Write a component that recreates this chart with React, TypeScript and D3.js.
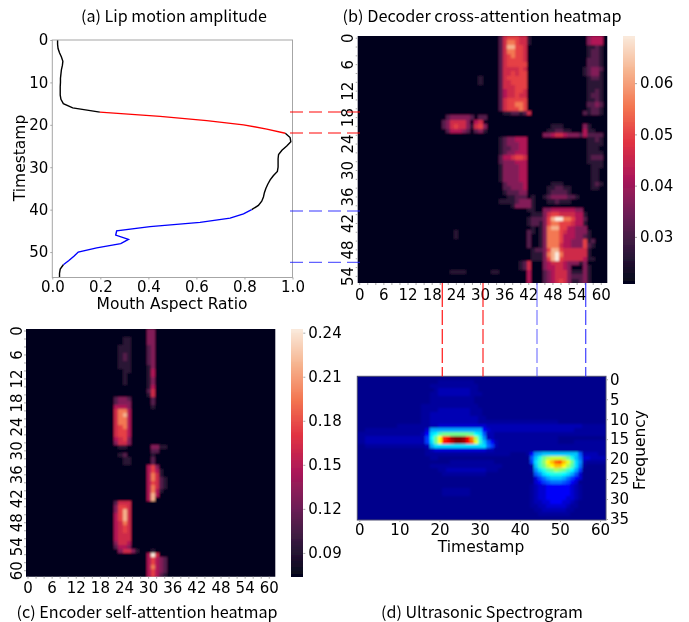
import React, { useEffect, useRef } from "react";
import * as d3 from "d3";

const WIDTH = 689;
const HEIGHT = 622;

// (a) lip motion: mouth aspect ratio per timestamp
const lipTimestamps = d3.range(0, 57);
const lipAmplitude = [
  0.022, 0.022, 0.024, 0.03, 0.038, 0.044, 0.042, 0.038, 0.036, 0.034, 0.034, 0.033, 0.033, 0.033, 0.036, 0.046,
  0.085, 0.198, 0.449, 0.643, 0.796, 0.893, 0.97, 0.99, 0.993, 0.976, 0.956, 0.942, 0.94, 0.94, 0.94, 0.937, 0.92,
  0.907, 0.897, 0.889, 0.883, 0.879, 0.872, 0.858, 0.83, 0.796, 0.74, 0.615, 0.407, 0.268, 0.264, 0.317, 0.285,
  0.185, 0.108, 0.09, 0.069, 0.046, 0.033, 0.03, 0.03,
];
const lipRedRange = [17, 22];
const lipBlueRange = [40, 53];

// heatmap cells are stored as levels 0-9 between the colorbar ends, in patches on a dark background
type Patch = { row: number; col: number; cells: string[] };

const crossTop: Patch = {
  row: 0,
  col: 35,
  cells: [
    "25666551", "25776551", "25886650", "25776650", "25676650", "25666650", "25666660", "25555650", "25565660",
    "25666660", "25566660", "25556660", "24556650", "24556550", "25666660", "25667760", "25666760", "01122125",
  ],
};
const crossMiddle: Patch = {
  row: 23,
  col: 35,
  cells: [
    "1233444", "1233344", "1223344", "1233444", "2445665", "2333444", "1333344", "1333344", "1333344", "1333344",
    "0233334", "0223334", "0122233", "0011222",
  ],
};
const crossMiddleLow: Patch = { row: 37, col: 35, cells: ["11112333", "00013333"] };
const crossBlob: Patch = {
  row: 18,
  col: 21,
  cells: ["02333332022", "23555530450", "23565531563", "02444320231"],
};
const crossBand: Patch = {
  row: 20,
  col: 46,
  cells: ["00111000003100000", "01122110004110000", "33455433324222200"].map((r) => r.slice(0, 15)),
};
const crossRightTop: Patch = {
  row: 0,
  col: 56,
  cells: [
    "03444", "03444", "01121", "01221", "01221", "02221", "02221", "12332", "12331", "01221", "01111", "01111",
    "01121", "01221", "01121", "02232", "01221", "21221",
  ],
};
const crossRightLow: Patch = {
  row: 23,
  col: 57,
  cells: ["1121", "1111", "1110", "1111", "1222", "1111", "0111", "0110", "0110", "0110", "0121", "0110"],
};
const crossLower: Patch = {
  row: 33,
  col: 42,
  cells: [
    "00000011100000000", "00000112211000000", "00000122221000000", "01001233332210000", "01000112111000000",
    "01000000000000000", "11003344444433000", "01113566555544100", "12223689977644200", "12213677666544100",
    "01013788664433300", "21013777654433310", "20013777644433210", "20013777644333612", "20013777544333621",
    "01223688655555510", "01113789755555510", "01113689655555411", "50003455543331300", "50003445543000310",
    "40002345553111310", "40002345553222310", "40002345653112310",
  ],
};
const crossFaint: Patch[] = [
  { row: 9, col: 30, cells: ["1", "1"] },
  { row: 44, col: 24, cells: ["1", "1"] },
  { row: 51, col: 40, cells: ["12", "12"] },
  { row: 53, col: 23, cells: ["1111"] },
  { row: 53, col: 33, cells: ["11"] },
];
const crossPatches = [
  crossTop, crossMiddle, crossMiddleLow, crossBlob, crossBand, crossRightTop, crossRightLow, crossLower, ...crossFaint,
];

const selfTopColumn: Patch = {
  row: 0,
  col: 30,
  cells: [
    "33", "33", "33", "33", "23", "23", "23", "23", "23", "13", "14", "14", "13", "13", "14", "25", "15", "02", "02",
    "01",
  ],
};
const selfFaint: Patch = {
  row: 2,
  col: 23,
  cells: ["011", "011", "111", "111", "121", "121", "111", "111", "011", "010", "010", "010"],
};
const selfBlockA: Patch = {
  row: 17,
  col: 22,
  cells: [
    "2332", "2333", "4443", "5774", "5784", "5774", "5774", "5674", "5664", "5664", "4563", "3553", "0110",
  ],
};
const selfSmall: Patch = { row: 29, col: 31, cells: ["3311", "2200"] };
const selfFaintLow: Patch = {
  row: 31,
  col: 23,
  cells: ["120", "011", "011"],
};
const selfColumnStub: Patch = { row: 31, col: 31, cells: ["1", "2", "2"] };
const selfBlockB: Patch = {
  row: 34,
  col: 30,
  cells: ["46300", "46410", "47510", "47521", "46521", "47521", "47410", "48400", "48000"],
};
const selfBlockC: Patch = {
  row: 43,
  col: 22,
  cells: [
    "25550", "36650", "36850", "46850", "46850", "45750", "45650", "45650", "45550", "45550", "35540", "24430",
    "03553",
  ],
};
const selfTail: Patch = { row: 55, col: 27, cells: ["1"] };
const selfBlockD: Patch = {
  row: 55,
  col: 30,
  cells: ["01000", "49500", "46432", "46432", "47432", "46432", "46421"],
};
const selfPatches = [
  selfTopColumn, selfFaint, selfBlockA, selfSmall, selfFaintLow, selfColumnStub, selfBlockB, selfBlockC, selfTail,
  selfBlockD,
];

// what each stored level 0-9 means as a fraction of the colorbar
const rocketLevels = [0, 0.11, 0.22, 0.33, 0.44, 0.52, 0.6, 0.72, 0.85, 1];

// (d) spectrogram, base-36 levels over the jet map, groups of ten columns
const spectrogramRows = [
  "1111111111 1111111111 1111111111 1111111111 1111111111 1111111111 11",
  "1111111111 1111111111 2222222221 1111111111 1111111111 1111111111 11",
  "1111111111 1111111122 2222222222 1111111111 1111111111 1111111111 11",
  "1111111111 1111111112 3333333322 1111111111 1111111111 1111111111 11",
  "1111111111 1111111122 3333333322 2111111111 1111111111 1111111111 11",
  "1111111111 1111111122 2222222221 1111111111 1111111111 1111111111 11",
  "1111111111 1111111122 2222222221 1111111111 1111111111 1111111111 11",
  "1111111111 1111112222 2222222222 1111111111 1111111111 1111111111 11",
  "1111111111 1111112222 3333333322 2111111111 1111111111 1111111111 11",
  "1111111111 1111112233 3333333322 2111111111 1111111111 1111111111 11",
  "1111111111 1111112233 3333333333 2211111111 1111111111 1111111111 11",
  "1111111111 1111112233 3333333333 2222222222 2222222222 1111111111 11",
  "1111111111 2222222233 4444444444 4433333333 3333333333 3333332222 22",
  "1122222222 22222224aa aaaaaaaaaa a543333333 3333333333 3333222222 22",
  "2222222222 22222235cd ghhhhhhhgd c733222222 2222222222 2222222222 22",
  "2233333333 33333336dh mtvyzzyvqj e933222222 2222222222 1111111111 11",
  "2233333333 33333336ch muvxzzyvrl fb75322222 2222222222 1111222222 22",
  "1122222222 22222223ac cccccccccc cc86322222 2222222222 2222222222 22",
  "1111111111 1111111234 4444444444 4433222222 2222222222 2222222222 22",
  "1111111111 1111111222 2222222222 2222222211 11259abbbb bbbbb73333 22",
  "1111111111 1111111122 1111111111 1111111111 1117behjkk kjheb84433 33",
  "1111111111 1111111111 1112222222 2222111111 1116cfimor solhc93222 22",
  "1111111111 1111111122 2222222222 2222221111 1112bfhkmo omjgc82111 11",
  "1111111111 1111111111 2233333333 3322211111 11129ceghj ihfda61111 11",
  "1111111111 1111111111 1222222222 2211111111 111179cdee edca741111 11",
  "1111111111 1111111111 1111111111 1111111111 1111468abb ba86541111 11",
  "1111111111 1111111111 1111111111 1111111111 1111456788 8765411111 11",
  "1111111111 1111111111 1111111111 1111111111 1112344555 5554321111 11",
  "1111111111 1111111111 1222222211 1111111111 1112344555 5554321111 11",
  "1111111111 1111111111 1222222211 1111111111 1112344555 5554321111 11",
  "1111111111 1111111111 1111111111 1111111111 1112344555 5544321111 11",
  "1111111111 1111111111 1111111111 1111111111 1112334455 5443211111 11",
  "1111111111 1111111111 1111111111 1111111111 1112233444 4432211111 11",
  "1111111111 1111111111 1111111111 1111111111 1111223333 3322111111 11",
  "1111111111 1111111111 1111111111 1111111111 1111122222 2221111111 11",
  "1111111111 1111111111 1111111111 1111111111 1111111111 1111111111 11",
];
// the lowest spectrogram levels sit closer together than the rest
const jetLowLevels = [0, 0.01, 0.025, 0.045, 0.07, 0.105];

const crossColorbarTicks = [0.03, 0.04, 0.05, 0.06];
const selfColorbarTicks = [0.09, 0.12, 0.15, 0.18, 0.21, 0.24];
const heatmapTicks = d3.range(0, 66, 6);
const spectrogramXTicks = [0, 10, 20, 30, 40, 50, 60];
const spectrogramYTicks = [0, 5, 10, 15, 20, 25, 30, 35];

const rocketStops = ["#03051a", "#35193e", "#701f57", "#ad1759", "#e13342", "#f37651", "#f6b48f", "#faebdd"];
const rocket = d3
  .scaleLinear<string>()
  .domain(rocketStops.map((_, i) => i / (rocketStops.length - 1)))
  .range(rocketStops)
  .interpolate(d3.interpolateRgb);

const jetStops = ["#000080", "#0000ff", "#00ffff", "#ffff00", "#ff0000", "#800000"];
const jet = d3.scaleLinear<string>().domain([0, 0.11, 0.375, 0.625, 0.875, 1]).range(jetStops);

const LABEL_FONT = "'DejaVu Sans', sans-serif";
const TITLE_FONT = "'Noto Sans CJK SC', sans-serif";
const AXIS_GRAY = "#a6a6a6";

function patchesToGrid(patches: Patch[], rows: number, cols: number) {
  const grid = d3.range(rows).map(() => new Array(cols).fill(0));
  patches.forEach((p) =>
    p.cells.forEach((line, i) =>
      line.split("").forEach((ch, j) => {
        if (+ch > 0) grid[p.row + i][p.col + j] = +ch;
      })
    )
  );
  return grid;
}

function styleAxis(g: any, size = 15) {
  g.attr("font-family", LABEL_FONT).attr("font-size", size);
  g.selectAll("text").attr("fill", "#000");
  g.selectAll("line").attr("stroke", AXIS_GRAY);
}

// dark backing a little larger than the box, blurred, then clipped back to the box
function softCells(root: any, id: string, box: any, background: string) {
  const clip = root.append("g").attr("clip-path", `url(#clip-${id})`);
  root
    .append("clipPath")
    .attr("id", `clip-${id}`)
    .append("rect")
    .attr("x", box.x0)
    .attr("y", box.y0)
    .attr("width", box.x1 - box.x0)
    .attr("height", box.y1 - box.y0);
  const blurred = clip.append("g").attr("filter", "url(#cellBlur)");
  blurred
    .append("rect")
    .attr("x", box.x0 - 6)
    .attr("y", box.y0 - 6)
    .attr("width", box.x1 - box.x0 + 12)
    .attr("height", box.y1 - box.y0 + 12)
    .attr("fill", background);
  return blurred.append("g").attr("shape-rendering", "crispEdges");
}

function drawHeatmap(
  root: any,
  id: string,
  grid: number[][],
  box: { x0: number; x1: number; y0: number; y1: number },
  rotatedLabelX: number,
  xLabelY: number
) {
  const nCols = grid[0].length;
  const x = d3.scaleBand<number>().domain(d3.range(nCols)).range([box.x0, box.x1]);
  const y = d3.scaleBand<number>().domain(d3.range(grid.length)).range([box.y0, box.y1]);

  const cells = softCells(root, id, box, rocket(0));
  grid.forEach((line, r) =>
    cells
      .selectAll(null)
      .data(line)
      .enter()
      .append("rect")
      .attr("x", (_: number, c: number) => x(c))
      .attr("y", y(r))
      .attr("width", x.bandwidth() + 0.5)
      .attr("height", y.bandwidth() + 0.5)
      .attr("fill", (d: number) => rocket(rocketLevels[d]))
  );

  const xAxis = d3
    .axisBottom(x)
    .tickValues(d3.range(0, nCols, 2))
    .tickSize(2)
    .tickFormat((d) => (heatmapTicks.includes(d as number) ? String(d) : ""));
  const xg = root.append("g").attr("transform", `translate(0,${box.y1})`).call(xAxis);
  styleAxis(xg);
  xg.select(".domain").remove();
  xg.selectAll("text").attr("y", null).attr("dy", null).attr("transform", `translate(0,${xLabelY - box.y1})`);

  const yAxis = d3
    .axisLeft(y)
    .tickValues(d3.range(0, grid.length, 2))
    .tickSize(2)
    .tickFormat((d) => (heatmapTicks.includes(d as number) ? String(d) : ""));
  const yg = root.append("g").attr("transform", `translate(${box.x0},0)`).call(yAxis);
  styleAxis(yg);
  yg.select(".domain").remove();
  yg.selectAll("text")
    .attr("x", null)
    .attr("dy", null)
    .attr("text-anchor", "middle")
    .attr("transform", `translate(${rotatedLabelX - box.x0},0) rotate(-90)`);
}

function drawColorbar(
  root: any,
  box: { x0: number; x1: number; y0: number; y1: number },
  domain: number[],
  ticks: number[]
) {
  const y = d3.scaleLinear().domain(domain).range([box.y1, box.y0]);
  const steps = d3.range(0, 1, 1 / 256);
  root
    .append("g")
    .attr("shape-rendering", "crispEdges")
    .selectAll("rect")
    .data(steps)
    .enter()
    .append("rect")
    .attr("x", box.x0)
    .attr("width", box.x1 - box.x0)
    .attr("y", (t: number) => y(domain[0] + (t + 1 / 256) * (domain[1] - domain[0])))
    .attr("height", (box.y1 - box.y0) / 256 + 0.6)
    .attr("fill", (t: number) => rocket(t));
  const g = root
    .append("g")
    .attr("transform", `translate(${box.x1},0)`)
    .call(d3.axisRight(y).tickValues(ticks).tickSize(2).tickPadding(3).tickFormat(d3.format(".2f")));
  styleAxis(g);
  g.select(".domain").remove();
}

function addTitle(root: any, text: string, x: number, y: number, length: number) {
  root
    .append("text")
    .attr("x", x)
    .attr("y", y)
    .attr("text-anchor", "middle")
    .attr("font-family", TITLE_FONT)
    .attr("font-size", 15.5)
    .attr("textLength", length)
    .attr("lengthAdjust", "spacingAndGlyphs")
    .attr("fill", "#000")
    .text(text);
}

function addLabel(root: any, text: string, x: number, y: number, rotate = false) {
  root
    .append("text")
    .attr("transform", `translate(${x},${y})${rotate ? " rotate(-90)" : ""}`)
    .attr("text-anchor", "middle")
    .attr("font-family", LABEL_FONT)
    .attr("font-size", 15.5)
    .attr("fill", "#000")
    .text(text);
}

function addBlur(defs: any, id: string, amount: number) {
  defs
    .append("filter")
    .attr("id", id)
    .attr("filterUnits", "userSpaceOnUse")
    .attr("x", 0)
    .attr("y", 0)
    .attr("width", WIDTH)
    .attr("height", HEIGHT)
    .append("feGaussianBlur")
    .attr("stdDeviation", amount);
}

export default function App() {
  const ref = useRef<SVGSVGElement>(null);

  useEffect(() => {
    const svg = d3.select(ref.current);
    svg.selectAll("*").remove();
    const defs = svg.append("defs");
    addBlur(defs, "soft", 0.25);
    addBlur(defs, "cellBlur", 1);
    const root = svg.append("g").attr("filter", "url(#soft)");
    root.append("rect").attr("width", WIDTH).attr("height", HEIGHT).attr("fill", "#fff");

    // (a) lip motion line
    const x = d3.scaleLinear().domain([0, 1]).range([52.3, 292.5]);
    const y = d3.scaleLinear().domain([0, 56]).range([40, 277.5]);
    const points = lipTimestamps.map((t, i) => ({ t, v: lipAmplitude[i] }));
    const line = d3
      .line<{ t: number; v: number }>()
      .x((d) => x(d.v))
      .y((d) => y(d.t));
    const segments = [
      { data: points.filter((d) => d.t <= lipRedRange[0]), color: "#000" },
      { data: points.filter((d) => d.t >= lipRedRange[1] && d.t <= lipBlueRange[0]), color: "#000" },
      { data: points.filter((d) => d.t >= lipBlueRange[1]), color: "#000" },
      { data: points.filter((d) => d.t >= lipRedRange[0] && d.t <= lipRedRange[1]), color: "#ff0000" },
      { data: points.filter((d) => d.t >= lipBlueRange[0] && d.t <= lipBlueRange[1]), color: "#0000ff" },
    ];
    segments.forEach((s) =>
      root
        .append("path")
        .attr("d", line(s.data))
        .attr("fill", "none")
        .attr("stroke", s.color)
        .attr("stroke-width", 1.4)
    );
    root
      .append("rect")
      .attr("x", x(0))
      .attr("y", y(0))
      .attr("width", x(1) - x(0))
      .attr("height", y(56) - y(0))
      .attr("fill", "none")
      .attr("stroke", AXIS_GRAY);
    const ax = root
      .append("g")
      .attr("transform", `translate(0,${y(56)})`)
      .call(d3.axisBottom(x).ticks(5).tickSize(2).tickPadding(2).tickFormat(d3.format(".1f")));
    styleAxis(ax);
    ax.select(".domain").remove();
    const ay = root
      .append("g")
      .attr("transform", `translate(${x(0)},0)`)
      .call(d3.axisLeft(y).tickValues(d3.range(0, 60, 10)).tickSize(2).tickPadding(2));
    styleAxis(ay);
    ay.select(".domain").remove();
    addLabel(root, "Mouth Aspect Ratio", 172, 309);
    addLabel(root, "Timestamp", 25, 158, true);
    addTitle(root, "(a) Lip motion amplitude", 174, 22, 186);

    // (b) cross-attention
    const crossDomain = [0.021, 0.0692];
    drawHeatmap(root, "cross", patchesToGrid(crossPatches, 56, 62), { x0: 357.7, x1: 607.3, y0: 36, y1: 283 }, 353, 300);
    drawColorbar(root, { x0: 623.3, x1: 635, y0: 36, y1: 283 }, crossDomain, crossColorbarTicks);
    addTitle(root, "(b) Decoder cross-attention heatmap", 482, 22, 279);

    // (c) self-attention
    const selfDomain = [0.0738, 0.2425];
    drawHeatmap(root, "self", patchesToGrid(selfPatches, 62, 62), { x0: 26, x1: 275.3, y0: 329, y1: 576.7 }, 22, 592.5);
    drawColorbar(root, { x0: 291, x1: 303.3, y0: 329, y1: 576.7 }, selfDomain, selfColorbarTicks);
    addTitle(root, "(c) Encoder self-attention heatmap", 147, 618, 261);

    // (d) spectrogram
    const specGrid = spectrogramRows.map((r) =>
      r
        .replace(/\s/g, "")
        .split("")
        .map((ch) => {
          const level = parseInt(ch, 36);
          return level < jetLowLevels.length ? jetLowLevels[level] : level / 35;
        })
    );
    const sx = d3.scaleLinear().domain([-0.5, 61.5]).range([357.3, 606]);
    const sy = d3.scaleLinear().domain([-0.5, 35.5]).range([376.3, 520]);
    const specCells = softCells(root, "spec", { x0: 357.3, x1: 606, y0: 376.3, y1: 520 }, jet(jetLowLevels[1]));
    specGrid.forEach((line, r) =>
      specCells
        .selectAll(null)
        .data(line)
        .enter()
        .append("rect")
        .attr("x", (_: number, c: number) => sx(c - 0.5))
        .attr("y", sy(r - 0.5))
        .attr("width", sx(1) - sx(0) + 0.5)
        .attr("height", sy(1) - sy(0) + 0.5)
        .attr("fill", (d: number) => jet(d))
    );
    root
      .append("rect")
      .attr("x", 357.3)
      .attr("y", 376.3)
      .attr("width", 606 - 357.3)
      .attr("height", 520 - 376.3)
      .attr("fill", "none")
      .attr("stroke", "#4a4a70");
    const dx = root
      .append("g")
      .attr("transform", "translate(0,520)")
      .call(d3.axisBottom(sx).tickValues(spectrogramXTicks).tickSize(2).tickPadding(2));
    styleAxis(dx);
    dx.select(".domain").remove();
    const dy = root
      .append("g")
      .attr("transform", "translate(606,1)")
      .call(d3.axisRight(sy).tickValues(spectrogramYTicks).tickSize(2).tickPadding(2));
    styleAxis(dy);
    dy.select(".domain").remove();
    addLabel(root, "Timestamp", 481, 552);
    addLabel(root, "Frequency", 645, 450, true);
    addTitle(root, "(d) Ultrasonic Spectrogram", 482, 618, 202);

    // guide lines between the panels
    [
      { at: 112, color: "#ff0000", alpha: 0.65 },
      { at: 133, color: "#ff0000", alpha: 0.65 },
      { at: 211, color: "#2020ff", alpha: 0.6 },
      { at: 262.3, color: "#2020ff", alpha: 0.7 },
    ].forEach((g) =>
      root
        .append("line")
        .attr("x1", 290)
        .attr("x2", 364)
        .attr("y1", g.at)
        .attr("y2", g.at)
        .attr("stroke", g.color)
        .attr("stroke-opacity", g.alpha)
        .attr("stroke-width", 1.3)
        .attr("stroke-dasharray", "13 6")
    );
    [
      { at: 442.3, color: "#ff0000", alpha: 0.85 },
      { at: 483, color: "#ff0000", alpha: 0.8 },
      { at: 537, color: "#2020ff", alpha: 0.55 },
      { at: 585.7, color: "#2020ff", alpha: 0.8 },
    ].forEach((g) =>
      root
        .append("line")
        .attr("x1", g.at)
        .attr("x2", g.at)
        .attr("y1", 283)
        .attr("y2", 376.5)
        .attr("stroke", g.color)
        .attr("stroke-opacity", g.alpha)
        .attr("stroke-width", 1.3)
        .attr("stroke-dasharray", "24 3 15 4 15 4 15 4")
    );
  }, []);

  return <svg ref={ref} width={WIDTH} height={HEIGHT} style={{ position: "absolute", left: 0, top: 0 }} />;
}
